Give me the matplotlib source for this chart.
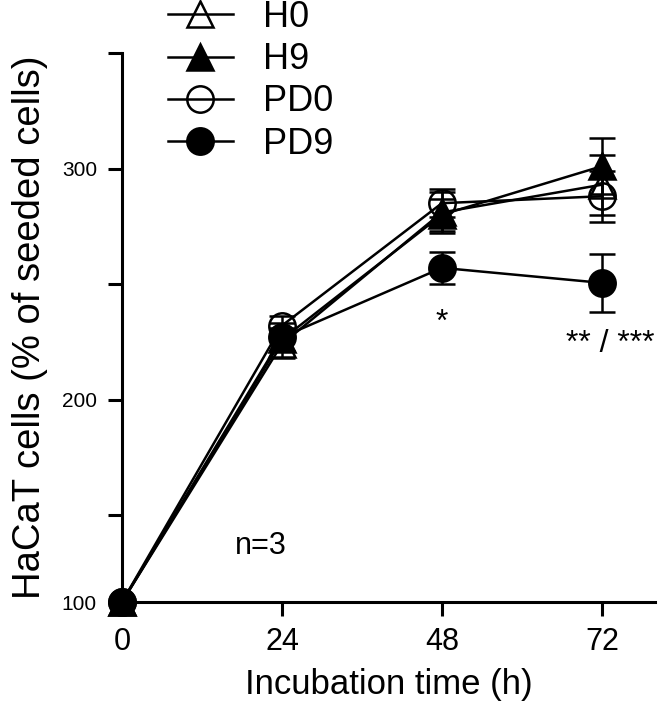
import numpy as np
import matplotlib
matplotlib.use("Agg")
import matplotlib.pyplot as plt
from matplotlib.lines import Line2D

plt.rcParams["font.family"] = ["Liberation Sans", "DejaVu Sans"]

# ── data ───────────────────────────────────────────────────────
times = [0, 24, 48, 72]
h0 = [100, 224, 281, 293]
h0_err = [0, 6, 9, 13]
h9 = [100, 226, 280, 301]
h9_err = [0, 5, 7, 12]
pd0 = [100, 232, 285, 288]
pd0_err = [0, 4, 6, 11]
pd9 = [100, 227, 257, 250.5]
pd9_err = [0, 6, 7, 12.5]

series = [
    ("H0", h0, h0_err, "^", "none"),
    ("H9", h9, h9_err, "^", "black"),
    ("PD0", pd0, pd0_err, "o", "none"),
    ("PD9", pd9, pd9_err, "o", "black"),
]

# y axis is compressed between 100 and 150 (as in the original)
K = 0.753


def fwd(y):
    y = np.asarray(y, dtype=float)
    return np.where(y < 150, 150 - (150 - y) * K, y)


def inv(u):
    u = np.asarray(u, dtype=float)
    return np.where(u < 150, 150 - (150 - u) / K, u)


fig = plt.figure(figsize=(6.6, 7.06), dpi=100)
ax = fig.add_axes([0.1848, 0.1473, 0.808, 0.7776])
ax.set_yscale("function", functions=(fwd, inv))

lw = 1.8
handles = []
for name, y, err, mk, fc in series:
    ax.errorbar(times, y, yerr=err, color="black", lw=lw, elinewidth=lw,
                capsize=9.5, capthick=lw, marker=mk, ms=19,
                markerfacecolor=fc, markeredgecolor="black", mew=lw,
                clip_on=False, zorder=3)
    handles.append(Line2D([], [], color="black", lw=lw, marker=mk, ms=19,
                          markerfacecolor=fc, markeredgecolor="black",
                          mew=lw, label=name))

ax.set_xlim(0, 80)
ax.set_ylim(100, 350)
ax.set_xticks([0, 24, 48, 72])
ax.set_yticks([100, 200, 300])
ax.set_yticks([150, 250, 350], minor=True)
ax.yaxis.set_minor_formatter(plt.NullFormatter())

for s in ["top", "right"]:
    ax.spines[s].set_visible(False)
for s in ["left", "bottom"]:
    ax.spines[s].set_linewidth(2.2)

ax.tick_params(axis="both", which="both", direction="out", length=10,
               width=2.2, color="black")
ax.tick_params(axis="y", which="major", labelsize=15, pad=8)
ax.tick_params(axis="x", labelsize=22, pad=8)

ax.set_xlabel("Incubation time (h)", fontsize=25, labelpad=8)
ax.set_ylabel("HaCaT cells (% of seeded cells)", fontsize=27.5, labelpad=10)

ax.text(48, 233, "*", fontsize=23, ha="center", va="center")
ax.text(73.2, 224, "** / ***", fontsize=23, ha="center", va="center")
ax.text(20.9, 132, "n=3", fontsize=22, ha="center", va="center")

ax.legend(handles=handles, loc="upper left", bbox_to_anchor=(0.2545, 1.0),
          bbox_transform=fig.transFigure, frameon=False, fontsize=26,
          borderaxespad=0, borderpad=0, handlelength=1.8,
          handletextpad=0.83, labelspacing=0.2)

fig.savefig("out.png", dpi=100)
